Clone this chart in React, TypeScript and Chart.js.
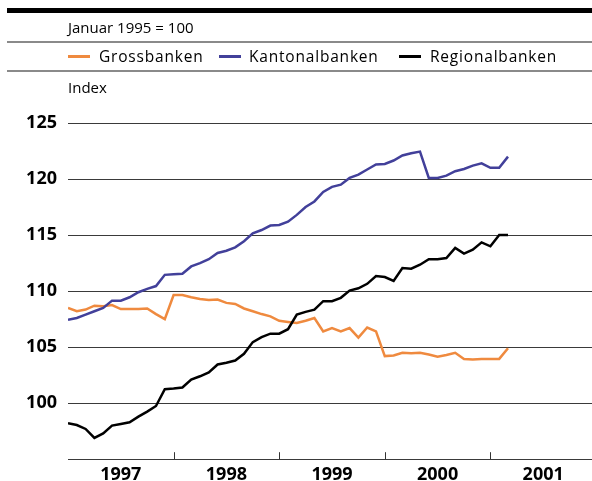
import React, { useEffect, useRef } from 'react';
import { Chart, registerables } from 'chart.js';

Chart.register(...registerables);

// Month offsets from January 1997 (0 = Jan 1997), monthly data to March 2001
const yearLabels = ['1997', '1998', '1999', '2000', '2001'];
const yTickValues = [95, 100, 105, 110, 115, 120, 125];

const grossbanken = [
  108.5, 108.2, 108.35, 108.7, 108.65, 108.75, 108.4, 108.4, 108.4, 108.45, 107.95,
  107.5, 109.65, 109.65, 109.45, 109.3, 109.2, 109.25, 108.95, 108.85, 108.45,
  108.2, 107.95, 107.75, 107.35, 107.25, 107.15, 107.35, 107.6, 106.4, 106.7,
  106.4, 106.7, 105.85, 106.75, 106.4, 104.2, 104.25, 104.5, 104.45, 104.5,
  104.35, 104.15, 104.3, 104.5, 103.95, 103.9, 103.95, 103.95, 103.95, 104.9,
];

const kantonalbanken = [
  107.45, 107.6, 107.9, 108.2, 108.5, 109.15, 109.15, 109.45, 109.9, 110.2, 110.45,
  111.45, 111.5, 111.55, 112.2, 112.5, 112.85, 113.4, 113.6, 113.9, 114.45,
  115.15, 115.45, 115.85, 115.9, 116.2, 116.8, 117.5, 118.0, 118.85, 119.3,
  119.5, 120.1, 120.4, 120.85, 121.3, 121.35, 121.65, 122.1, 122.3, 122.45,
  120.1, 120.1, 120.3, 120.7, 120.9, 121.2, 121.4, 121.0, 121.0, 122.0,
];

const regionalbanken = [
  98.2, 98.05, 97.7, 96.9, 97.3, 98.0, 98.15, 98.3, 98.8, 99.25, 99.75,
  101.25, 101.3, 101.4, 102.1, 102.4, 102.75, 103.45, 103.6, 103.8, 104.4,
  105.45, 105.9, 106.2, 106.2, 106.6, 107.9, 108.15, 108.35, 109.1, 109.1,
  109.4, 110.05, 110.25, 110.65, 111.35, 111.25, 110.9, 112.05, 112.0, 112.35,
  112.85, 112.85, 112.95, 113.85, 113.35, 113.7, 114.35, 114.0, 115.0, 115.0,
];

const ORANGE = '#EF8A3F';
const BLUE = '#42409A';
const BLACK = '#000000';
const FONT = "'Open Sans', 'Liberation Sans', sans-serif";

const toPoints = (arr: number[]) => arr.map((v, i) => ({ x: i, y: v }));

const yearTicksPlugin = {
  id: 'yearTicks',
  afterDatasetsDraw(chart: any) {
    const { ctx, scales } = chart;
    const x = scales.x;
    const y = scales.y;
    const base = y.getPixelForValue(95);
    ctx.save();
    ctx.strokeStyle = '#333';
    ctx.lineWidth = 1;
    for (let k = 1; k <= yearLabels.length; k++) {
      const px = Math.round(x.getPixelForValue(k * 12)) + 0.5;
      ctx.beginPath();
      ctx.moveTo(px, base);
      ctx.lineTo(px, base - 7);
      ctx.stroke();
    }
    ctx.restore();
  },
};

function ChartCanvas() {
  const ref = useRef<HTMLCanvasElement | null>(null);
  useEffect(() => {
    if (!ref.current) return;
    const chart = new Chart(ref.current, {
      type: 'line',
      data: {
        datasets: [
          {
            label: 'Grossbanken',
            data: toPoints(grossbanken),
            borderColor: ORANGE,
            borderWidth: 2.5,
            pointRadius: 0,
            tension: 0,
            order: 3,
          },
          {
            label: 'Kantonalbanken',
            data: toPoints(kantonalbanken),
            borderColor: BLUE,
            borderWidth: 2.5,
            pointRadius: 0,
            tension: 0,
            order: 2,
          },
          {
            label: 'Regionalbanken',
            data: toPoints(regionalbanken),
            borderColor: BLACK,
            borderWidth: 2.5,
            pointRadius: 0,
            tension: 0,
            order: 1,
          },
        ],
      },
      options: {
        animation: false,
        responsive: false,
        maintainAspectRatio: false,
        layout: { padding: { top: 123, left: 0, right: 0, bottom: 0 } },
        plugins: { legend: { display: false }, tooltip: { enabled: false } },
        scales: {
          x: {
            type: 'linear',
            min: 0,
            max: 60,
            afterBuildTicks: (s: any) => {
              s.ticks = yearLabels.map((_, k) => ({ value: 6 + 12 * k }));
            },
            afterFit: (s: any) => {
              s.height = 21.5;
            },
            ticks: {
              callback: (v: any) => yearLabels[Math.round((Number(v) - 6) / 12)],
              font: { family: FONT, size: 18, weight: 'bold' },
              color: '#000',
              padding: 5,
              maxRotation: 0,
              autoSkip: false,
            },
            grid: { display: false, drawTicks: false },
            border: { display: false },
          },
          y: {
            min: 95,
            max: 125,
            afterBuildTicks: (s: any) => {
              s.ticks = yTickValues.map((v) => ({ value: v }));
            },
            afterFit: (s: any) => {
              s.width = 68;
            },
            ticks: {
              callback: (v: any) => (Number(v) === 95 ? '' : String(v)),
              font: { family: FONT, size: 18, weight: 'bold' },
              color: '#000',
              padding: 11,
            },
            grid: { color: '#3a3a3a', lineWidth: 1, drawTicks: false },
            border: { display: false },
          },
        },
      },
      plugins: [yearTicksPlugin],
    } as any);
    return () => chart.destroy();
  }, []);
  return <canvas ref={ref} width={596} height={481} style={{ display: 'block' }} />;
}

const textStyle: React.CSSProperties = {
  position: 'absolute',
  fontFamily: FONT,
  fontSize: 15,
  lineHeight: '20px',
  color: '#000',
  whiteSpace: 'nowrap',
};

const legendItems = [
  { label: 'Grossbanken', color: ORANGE, lineX: 68, textX: 99 },
  { label: 'Kantonalbanken', color: BLUE, lineX: 219, textX: 249 },
  { label: 'Regionalbanken', color: BLACK, lineX: 399, textX: 430 },
];

export default function App() {
  return (
    <div
      style={{
        position: 'absolute',
        left: 0,
        top: 0,
        width: 592,
        height: 481,
        overflow: 'hidden',
        background: '#fff',
      }}
    >
      <div style={{ position: 'absolute', left: 0, top: 0 }}>
        <ChartCanvas />
      </div>
      <div style={{ position: 'absolute', left: 7, top: 8, width: 585, height: 5, background: '#000' }} />
      <div style={{ ...textStyle, left: 68, top: 17 }}>Januar 1995 = 100</div>
      <div style={{ position: 'absolute', left: 7, top: 41, width: 585, height: 1.5, background: '#8a8a8a' }} />
      {legendItems.map((it) => (
        <React.Fragment key={it.label}>
          <div
            style={{
              position: 'absolute',
              left: it.lineX,
              top: 55,
              width: 22,
              height: 2.5,
              background: it.color,
            }}
          />
          <div style={{ ...textStyle, fontSize: 15.5, letterSpacing: '0.8px', left: it.textX, top: 46 }}>
            {it.label}
          </div>
        </React.Fragment>
      ))}
      <div style={{ position: 'absolute', left: 7, top: 70, width: 585, height: 1.5, background: '#8a8a8a' }} />
      <div style={{ ...textStyle, left: 68, top: 77 }}>Index</div>
    </div>
  );
}
